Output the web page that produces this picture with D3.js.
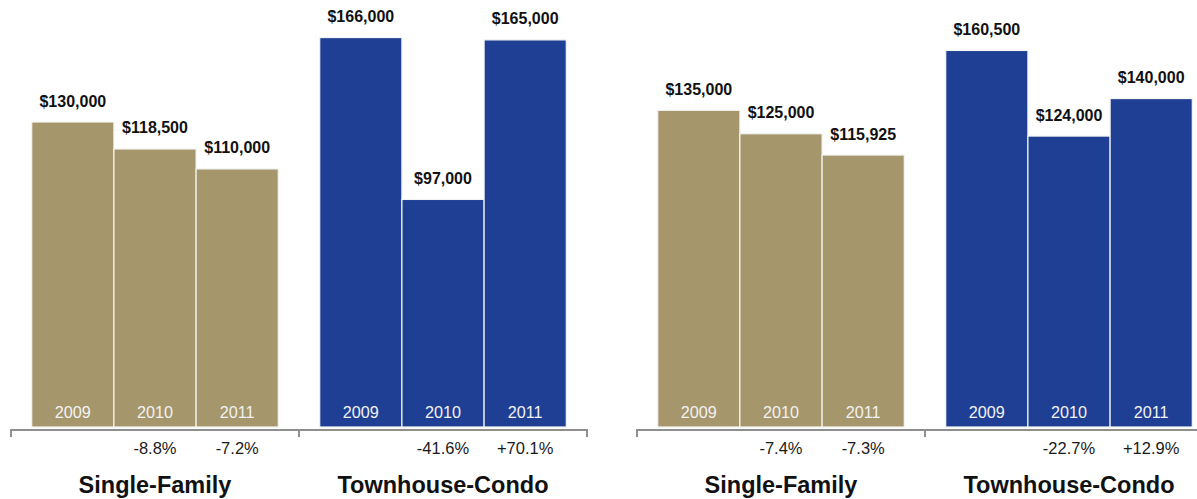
<!DOCTYPE html>
<html>
<head>
<meta charset="utf-8">
<script src="https://cdn.jsdelivr.net/npm/d3@7"></script>
<style>
  html, body { margin: 0; padding: 0; background: #fff; }
  svg { display: block; font-family: "Liberation Sans", Arial, Helvetica, sans-serif; }
</style>
</head>
<body>
<svg id="chart" width="1197" height="499"></svg>
<script>
// Median sales prices by property type, 2009–2011, for two markets
const years = ["2009", "2010", "2011"];
const categories = ["Single-Family", "Townhouse-Condo"];

const leftSingleFamily = [130000, 118500, 110000];
const leftTownhouse = [166000, 97000, 165000];
const rightSingleFamily = [135000, 125000, 115925];
const rightTownhouse = [160500, 124000, 140000];

const leftSingleChange = ["", "-8.8%", "-7.2%"];
const leftTownChange = ["", "-41.6%", "+70.1%"];
const rightSingleChange = ["", "-7.4%", "-7.3%"];
const rightTownChange = ["", "-22.7%", "+12.9%"];

const panels = [
  { x0: 11, values: [leftSingleFamily, leftTownhouse], changes: [leftSingleChange, leftTownChange] },
  { x0: 637, values: [rightSingleFamily, rightTownhouse], changes: [rightSingleChange, rightTownChange] }
];

const colors = { "Single-Family": "#a5966b", "Townhouse-Condo": "#1e3f93" };

const svg = d3.select("#chart");

const y = d3.scaleLinear().domain([0, 180000]).range([427, 4.7]);
const fmt = v => "$" + d3.format(",")(v);

const xCat = d3.scaleBand().domain(categories).range([0, 576]).padding(0);
const xYear = d3.scaleBand().domain(years).range([0, xCat.bandwidth()]).paddingInner(0).paddingOuter(0.252);

const axisY = 430;

panels.forEach(p => {
  const g = svg.append("g").attr("transform", `translate(${p.x0},0)`);

  // grouped axis bracket with ticks at section boundaries
  const edges = [0, ...categories.map(c => xCat(c) + xCat.bandwidth())];
  g.append("line")
    .attr("x1", edges[0]).attr("x2", edges[edges.length - 1])
    .attr("y1", axisY).attr("y2", axisY)
    .attr("stroke", "#8f8f8f").attr("stroke-width", 2);
  g.selectAll("line.tick").data(edges).join("line")
    .attr("class", "tick")
    .attr("x1", d => d).attr("x2", d => d)
    .attr("y1", axisY - 1).attr("y2", axisY + 7)
    .attr("stroke", "#8f8f8f").attr("stroke-width", 2);

  categories.forEach((cat, ci) => {
    const cg = g.append("g").attr("transform", `translate(${xCat(cat)},0)`);
    const rows = years.map((yr, i) => ({ yr, v: p.values[ci][i], ch: p.changes[ci][i] }));

    cg.selectAll("rect").data(rows).join("rect")
      .attr("x", d => xYear(d.yr))
      .attr("y", d => y(d.v))
      .attr("width", xYear.bandwidth())
      .attr("height", d => y(0) - y(d.v))
      .attr("fill", colors[cat])
      .attr("stroke", "#f4f4f4")
      .attr("stroke-width", 1.2);

    cg.selectAll("text.value").data(rows).join("text")
      .attr("class", "value")
      .attr("x", d => xYear(d.yr) + xYear.bandwidth() / 2)
      .attr("y", d => y(d.v) - 15.5)
      .attr("text-anchor", "middle")
      .attr("font-weight", "bold")
      .attr("font-size", 16)
      .attr("fill", "#111")
      .text(d => fmt(d.v));

    cg.selectAll("text.year").data(rows).join("text")
      .attr("class", "year")
      .attr("x", d => xYear(d.yr) + xYear.bandwidth() / 2)
      .attr("y", 418)
      .attr("text-anchor", "middle")
      .attr("font-size", 16.2)
      .attr("fill", "#f2f2f2")
      .text(d => d.yr);

    cg.selectAll("text.change").data(rows).join("text")
      .attr("class", "change")
      .attr("x", d => xYear(d.yr) + xYear.bandwidth() / 2)
      .attr("y", 453.5)
      .attr("text-anchor", "middle")
      .attr("font-size", 16.5)
      .attr("fill", "#1a1a1a")
      .text(d => d.ch);

    cg.append("text")
      .attr("x", xCat.bandwidth() / 2)
      .attr("y", 492.5)
      .attr("text-anchor", "middle")
      .attr("font-weight", "bold")
      .attr("font-size", 23.5)
      .attr("fill", "#111")
      .text(cat);
  });
});
</script>
</body>
</html>
